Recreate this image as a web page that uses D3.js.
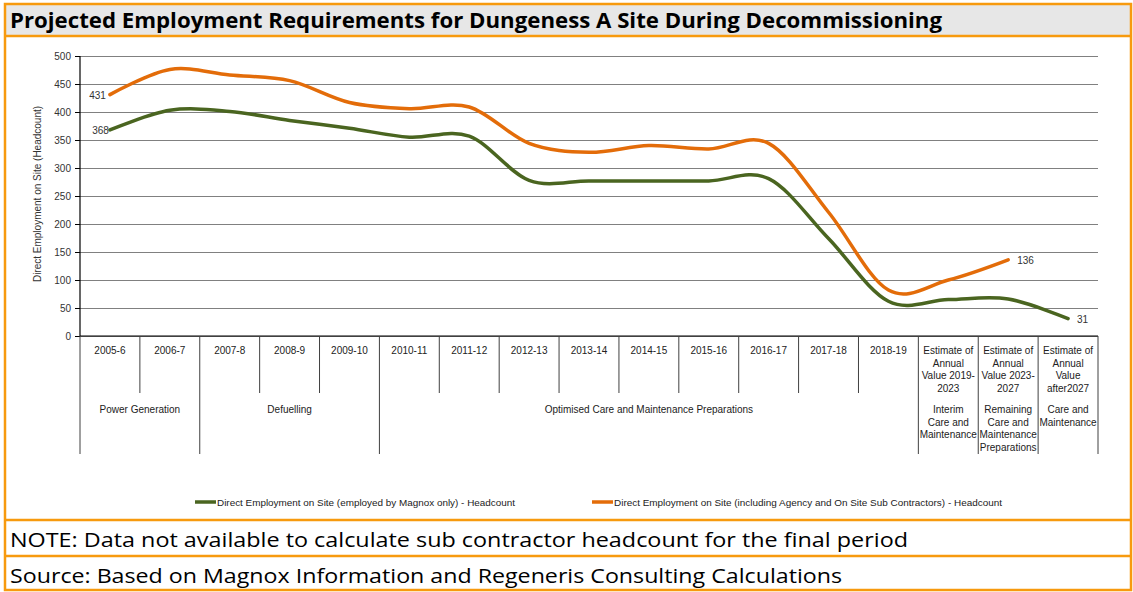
<!DOCTYPE html>
<html>
<head>
<meta charset="utf-8">
<script src="https://cdn.jsdelivr.net/npm/d3@7"></script>
<style>
  body { margin: 0; background: #fff; }
  svg { display: block; }
</style>
</head>
<body>
<div id="chart"></div>
<script>
// category labels (lines) for the first axis level
const categories = [
  ["2005-6"], ["2006-7"], ["2007-8"], ["2008-9"], ["2009-10"], ["2010-11"],
  ["2011-12"], ["2012-13"], ["2013-14"], ["2014-15"], ["2015-16"], ["2016-17"],
  ["2017-18"], ["2018-19"],
  ["Estimate of", "Annual", "Value 2019-", "2023"],
  ["Estimate of", "Annual", "Value 2023-", "2027"],
  ["Estimate of", "Annual", "Value", "after2027"]
];

// second axis level: label lines and number of categories covered
const groupLabels = [
  ["Power Generation"], ["Defuelling"], ["Optimised Care and Maintenance Preparations"],
  ["Interim", "Care and", "Maintenance"],
  ["Remaining", "Care and", "Maintenance", "Preparations"],
  ["Care and", "Maintenance"]
];
const groupSizes = [2, 3, 9, 1, 1, 1];

const magnoxOnly = [368, 403, 401, 385, 371, 355, 357, 278, 277, 277, 277, 281, 174, 62, 65, 66, 31];
const withContractors = [431, 476, 466, 456, 417, 406, 409, 344, 328, 340, 334, 344, 221, 82, 100, 136, null];

const seriesNames = [
  "Direct Employment on Site (employed by Magnox only) - Headcount",
  "Direct Employment on Site (including Agency and On Site Sub Contractors) - Headcount"
];
const seriesColors = ["#4a6520", "#e36c09"];

const yTicks = [0, 50, 100, 150, 200, 250, 300, 350, 400, 450, 500];

const W = 1133, H = 592;
const frameColor = "#f79a0e";
const svg = d3.select("#chart").append("svg").attr("width", W).attr("height", H);

// frame, title band, note rows
svg.append("rect").attr("x", 5).attr("y", 4).attr("width", 1126).attr("height", 32)
  .attr("fill", "#e7e7e7");
svg.append("rect").attr("x", 5).attr("y", 4).attr("width", 1126).attr("height", 586)
  .attr("fill", "none").attr("stroke", frameColor).attr("stroke-width", 2.5);
[36, 520, 556].forEach(yy => {
  svg.append("line").attr("x1", 5).attr("x2", 1131).attr("y1", yy).attr("y2", yy)
    .attr("stroke", frameColor).attr("stroke-width", 2.5);
});

svg.append("text").attr("x", 10).attr("y", 28)
  .attr("font-family", "'Open Sans', sans-serif").attr("font-weight", "bold")
  .attr("font-size", 21).attr("fill", "#000")
  .attr("textLength", 932).attr("lengthAdjust", "spacingAndGlyphs")
  .text("Projected Employment Requirements for Dungeness A Site During Decommissioning");

svg.append("text").attr("x", 10).attr("y", 547)
  .attr("font-family", "'Open Sans', sans-serif").attr("font-size", 20).attr("fill", "#000")
  .attr("textLength", 898).attr("lengthAdjust", "spacingAndGlyphs")
  .text("NOTE: Data not available to calculate sub contractor headcount for the final period");
svg.append("text").attr("x", 10).attr("y", 583)
  .attr("font-family", "'Open Sans', sans-serif").attr("font-size", 20).attr("fill", "#000")
  .attr("textLength", 832).attr("lengthAdjust", "spacingAndGlyphs")
  .text("Source: Based on Magnox Information and Regeneris Consulting Calculations");

// plot
const plotLeft = 80, plotRight = 1098, plotTop = 56, plotBottom = 336;
const x = d3.scaleBand().domain(d3.range(categories.length)).range([plotLeft, plotRight]).padding(0);
const y = d3.scaleLinear().domain([0, 500]).range([plotBottom, plotTop]);

const g = svg.append("g").attr("font-family", "'Liberation Sans', Arial, sans-serif");

// gridlines + y axis
const yAxis = g.append("g").attr("transform", "translate(" + plotLeft + ",0)")
  .call(d3.axisLeft(y).tickValues(yTicks).tickSize(-(plotRight - plotLeft)).tickPadding(9));
yAxis.select(".domain").remove();
yAxis.selectAll(".tick line").attr("stroke", "#808080").attr("stroke-width", 1.2);
yAxis.selectAll(".tick text").attr("font-size", 10).attr("fill", "#333")
  .attr("font-family", "'Liberation Sans', Arial, sans-serif");
yAxis.selectAll(".tick").append("line").attr("x1", -5).attr("x2", 0)
  .attr("stroke", "#000");

g.append("line").attr("x1", plotLeft).attr("x2", plotLeft).attr("y1", plotTop).attr("y2", plotBottom)
  .attr("stroke", "#000").attr("stroke-width", 1.2);
g.append("line").attr("x1", plotLeft).attr("x2", plotRight).attr("y1", plotBottom).attr("y2", plotBottom)
  .attr("stroke", "#000").attr("stroke-width", 1.2);

g.append("text")
  .attr("transform", "translate(41," + ((plotTop + plotBottom) / 2 - 2) + ") rotate(-90)")
  .attr("text-anchor", "middle").attr("font-size", 10).attr("fill", "#333")
  .text("Direct Employment on Site (Headcount)");

// multi-level category axis separators
const groupEdges = [0];
groupSizes.forEach(s => groupEdges.push(groupEdges[groupEdges.length - 1] + s));
for (let i = 0; i <= categories.length; i++) {
  const xe = plotLeft + i * x.bandwidth();
  const isGroup = groupEdges.includes(i);
  g.append("line").attr("x1", xe).attr("x2", xe).attr("y1", plotBottom)
    .attr("y2", isGroup ? 454 : 393)
    .attr("stroke", "#404040").attr("stroke-width", 1);
}

categories.forEach((lines, i) => {
  const t = g.append("text").attr("text-anchor", "middle").attr("font-size", 10)
    .attr("fill", "#222");
  lines.forEach((l, k) => {
    t.append("tspan").attr("x", x(i) + x.bandwidth() / 2).attr("y", 354 + k * 12.5).text(l);
  });
});

groupLabels.forEach((lines, gi) => {
  const x0 = plotLeft + groupEdges[gi] * x.bandwidth();
  const x1 = plotLeft + groupEdges[gi + 1] * x.bandwidth();
  const t = g.append("text").attr("text-anchor", "middle").attr("font-size", 10)
    .attr("fill", "#222");
  lines.forEach((l, k) => {
    t.append("tspan").attr("x", (x0 + x1) / 2).attr("y", 413 + k * 12.5).text(l);
  });
});

// series lines
const line = d3.line()
  .defined(d => d != null)
  .x((d, i) => x(i) + x.bandwidth() / 2)
  .y(d => y(d))
  .curve(d3.curveCatmullRom.alpha(0));

[magnoxOnly, withContractors].forEach((s, si) => {
  g.append("path").datum(s).attr("d", line).attr("fill", "none")
    .attr("stroke", seriesColors[si]).attr("stroke-width", 3.5)
    .attr("stroke-linecap", "round");
});

// data labels
const cx = i => x(i) + x.bandwidth() / 2;
function dataLabel(i, v, anchor, dx) {
  g.append("text").attr("x", cx(i) + dx).attr("y", y(v) + 4)
    .attr("text-anchor", anchor).attr("font-size", 10).attr("fill", "#333").text(v);
}
dataLabel(0, magnoxOnly[0], "end", -1);
dataLabel(0, withContractors[0], "end", -4);
dataLabel(15, withContractors[15], "start", 9);
dataLabel(16, magnoxOnly[16], "start", 9);

// legend
const legendX = [195, 592], legendW = [298, 388];
seriesNames.forEach((name, i) => {
  g.append("line").attr("x1", legendX[i]).attr("x2", legendX[i] + 21)
    .attr("y1", 502).attr("y2", 502)
    .attr("stroke", seriesColors[i]).attr("stroke-width", 3.5);
  g.append("text").attr("x", legendX[i] + 22).attr("y", 505.5)
    .attr("font-size", 9).attr("fill", "#222")
    .attr("font-family", "'Liberation Sans Narrow', 'Arial Narrow', sans-serif")
    .attr("textLength", legendW[i]).attr("lengthAdjust", "spacingAndGlyphs")
    .text(name);
});
</script>
</body>
</html>
